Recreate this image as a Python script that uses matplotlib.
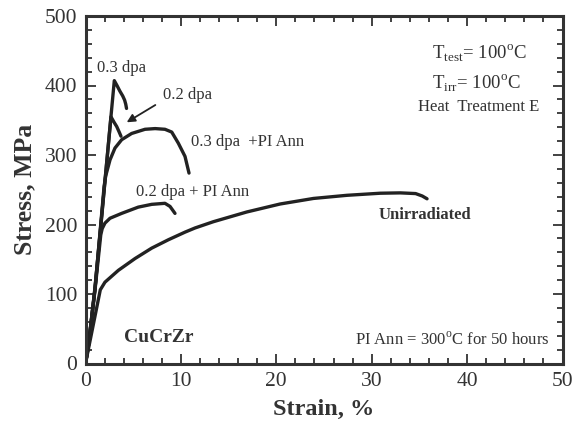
import matplotlib
matplotlib.use("Agg")
import matplotlib.pyplot as plt
from matplotlib.ticker import MultipleLocator

plt.rcParams['font.family'] = ['Liberation Serif', 'DejaVu Serif']
plt.rcParams['mathtext.fontset'] = 'custom'
plt.rcParams['mathtext.rm'] = 'Liberation Serif'

# Data (strain %, stress MPa)
dpa03_x = [0.0, 0.3, 1.0, 3.02, 3.3, 3.6, 3.9, 4.1, 4.22, 4.3]
dpa03_y = [0.0, 25, 110, 407, 400, 392, 385, 379, 373, 367]

dpa02_x = [0.0, 0.3, 1.0, 2.67, 3.0, 3.27, 3.5, 3.72]
dpa02_y = [0.0, 25, 108, 355, 347, 341, 334, 327]

dpa03pi_x = [0.0, 0.3, 1.0, 1.95, 2.12, 2.57, 3.09, 3.79, 4.84, 6.24, 7.3, 8.33, 9.04,
             9.73, 10.43, 10.85]
dpa03pi_y = [0.0, 25, 108, 255, 270, 293, 310, 322, 331, 337, 338, 337, 333, 317,
             298, 274]

dpa02pi_x = [0.0, 0.3, 1.0, 1.6, 1.75, 2.04, 2.57, 3.79, 5.53, 6.94, 8.33, 8.86, 9.38]
dpa02pi_y = [0.0, 25, 106, 185, 194, 202, 209, 216, 225, 229, 230.5, 226, 216]

unirr_x = [0.0, 1.55, 2.04, 3.44, 5.19, 6.94, 8.68, 10.43, 11.48, 13.4, 16.9, 20.4,
           23.9, 27.4, 30.9, 33.0, 34.6, 35.3, 35.8]
unirr_y = [0.0, 106, 117, 134, 151, 166, 178, 189, 195, 204, 218, 229.5, 237.5, 242,
           245, 245.5, 244.5, 241, 237]

fig = plt.figure(figsize=(5.84, 4.24), dpi=100)
ax = fig.add_axes([85.5/584, 1 - 363.5/424, 477/584, 347.5/424])

lc = '#222222'
lw = 2.4
for xs, ys in [(dpa03_x, dpa03_y), (dpa02_x, dpa02_y), (dpa03pi_x, dpa03pi_y),
               (dpa02pi_x, dpa02pi_y), (unirr_x, unirr_y)]:
    ax.plot(xs, ys, color=lc, lw=lw, solid_joinstyle='round', solid_capstyle='round')

ax.set_xlim(0, 50)
ax.set_ylim(0, 500)
ax.xaxis.set_major_locator(MultipleLocator(10))
ax.xaxis.set_minor_locator(MultipleLocator(2))
ax.yaxis.set_major_locator(MultipleLocator(100))
ax.yaxis.set_minor_locator(MultipleLocator(20))
ax.tick_params(which='both', direction='in', top=True, right=True, color='#333333',
               width=1.3, labelsize=15.5, labelcolor='#333333', pad=6)
ax.tick_params(which='major', length=7)
ax.tick_params(which='minor', length=4)
for s in ax.spines.values():
    s.set_linewidth(2.2)
    s.set_color('#333333')

ax.set_xlabel('Strain, %', fontsize=17.5, fontweight='bold', color='#333333', labelpad=6)
ax.set_ylabel('Stress, MPa', fontsize=18.5, fontweight='bold', color='#333333', labelpad=6)

tc = '#333333'
fs = 12
ax.text(3.8, 425, '0.3 dpa', fontsize=fs, color=tc, ha='center', va='center')
ax.text(8.1, 386, '0.2 dpa', fontsize=fs, color=tc, ha='left', va='center')
ax.annotate('', xy=(4.07, 345), xytext=(7.57, 374),
            arrowprops=dict(arrowstyle='-|>', color=lc, lw=1.3, mutation_scale=12))
ax.text(11.1, 318, '0.3 dpa  +PI Ann', fontsize=fs, color=tc, ha='left', va='center')
ax.text(5.3, 247, '0.2 dpa + PI Ann', fontsize=fs, color=tc, ha='left', va='center')
ax.text(30.7, 214, 'Unirradiated', fontsize=12, fontweight='bold', color=tc, ha='left', va='center')
ax.text(4.0, 38, 'CuCrZr', fontsize=14, fontweight='bold', color=tc, ha='left', va='center')
ax.text(28.2, 34, r'PI Ann = 300$^{\mathrm{o}}$C for 50 hours', fontsize=fs, color=tc,
        ha='left', va='center')
ax.text(36.3, 446, r'T$_{\mathrm{test}}$= 100$^{\mathrm{o}}$C', fontsize=13.5, color=tc,
        ha='left', va='center')
ax.text(36.3, 403, r'T$_{\mathrm{irr}}$= 100$^{\mathrm{o}}$C', fontsize=13.5, color=tc,
        ha='left', va='center')
ax.text(34.9, 369, 'Heat  Treatment E', fontsize=fs, color=tc, ha='left', va='center')

fig.savefig('out.png', dpi=100)
